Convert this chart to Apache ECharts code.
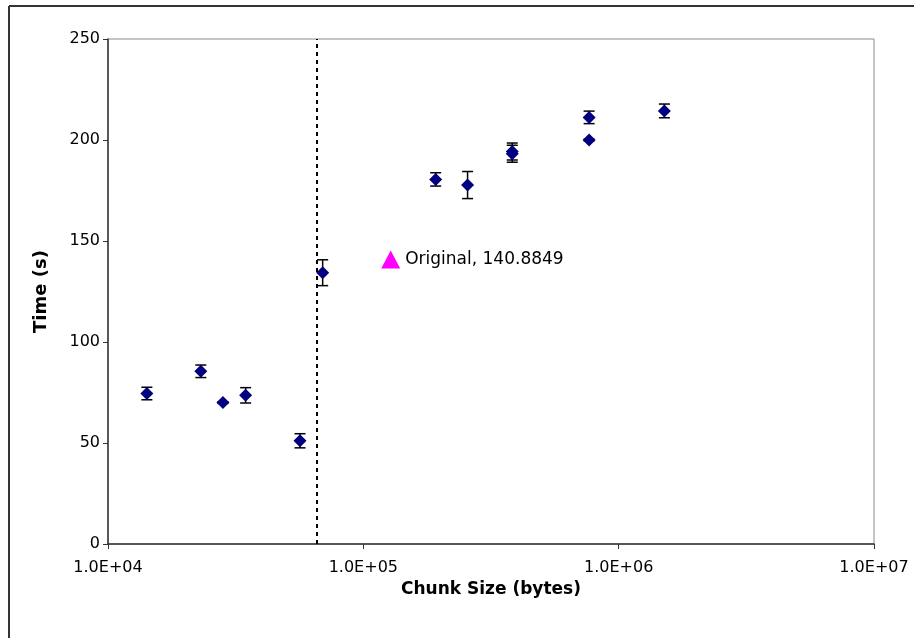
<!DOCTYPE html>
<html>
<head>
<meta charset="utf-8">
<script src="https://cdn.jsdelivr.net/npm/echarts@6/dist/echarts.min.js"></script>
<style>
html,body{margin:0;padding:0;background:#fff;}
#chart{width:914px;height:638px;}
</style>
</head>
<body>
<div id="chart"></div>
<script>
// Data
var chunkSizes = [14200, 23100, 28200, 34600, 56500, 69300, 192000, 256000, 383000, 383000, 766000, 766000, 1510000];
var times      = [74.5, 85.5, 70.0, 73.6, 51.1, 134.3, 180.5, 177.7, 194.3, 193.2, 211.2, 200.0, 214.4];
var errors     = [3.1, 3.1, 0.4, 3.8, 3.5, 6.4, 3.3, 6.7, 4.2, 4.2, 3.1, 0.4, 3.4];
var originalSize = [128000];
var originalTime = [140.8849];
var originalName = 'Original';
var thresholdSize = [65536];
var xTickValues = [1e4, 1e5, 1e6, 1e7];
var yTickValues = [0, 50, 100, 150, 200, 250];
var xAxisTitle = 'Chunk Size (bytes)';
var yAxisTitle = 'Time (s)';

var FONT = 'DejaVu Sans';

function fmtExp(v) {
  var e = Math.round(Math.log10(v));
  var m = v / Math.pow(10, e);
  var es = (e < 0 ? '-' : '+') + (Math.abs(e) < 10 ? '0' : '') + Math.abs(e);
  return m.toFixed(1) + 'E' + es;
}

var pointData = chunkSizes.map(function (c, i) { return [c, times[i]]; });
var errData = chunkSizes.map(function (c, i) { return [c, times[i] - errors[i], times[i] + errors[i]]; });
var origData = originalSize.map(function (c, i) { return [c, originalTime[i]]; });

var chart = echarts.init(document.getElementById('chart'), null, {renderer: 'canvas'});
chart.setOption({
  animation: false,
  backgroundColor: '#ffffff',
  grid: {left: 108, right: 40, top: 39, bottom: 94, show: true, borderColor: '#8c8c8c', borderWidth: 1, backgroundColor: 'transparent'},
  xAxis: {
    type: 'log', logBase: 10, min: xTickValues[0], max: xTickValues[xTickValues.length - 1],
    name: xAxisTitle, nameLocation: 'middle', nameGap: 22,
    nameTextStyle: {fontFamily: FONT, fontWeight: 'bold', fontSize: 17, color: '#000'},
    axisLine: {show: true, onZero: false, lineStyle: {color: '#333', width: 1.5}},
    axisTick: {show: true, inside: false, length: 5, lineStyle: {color: '#333'}},
    minorTick: {show: false},
    splitLine: {show: false},
    axisLabel: {margin: 16, fontFamily: FONT, fontSize: 16, color: '#000', formatter: function (v) { return fmtExp(v); }}
  },
  yAxis: {
    type: 'value', min: 0, max: 250, interval: 50,
    name: yAxisTitle, nameLocation: 'middle', nameGap: 58, nameRotate: 90,
    nameTextStyle: {fontFamily: FONT, fontWeight: 'bold', fontSize: 18, color: '#000'},
    axisLine: {show: true, lineStyle: {color: '#333', width: 1.5}},
    axisTick: {show: true, inside: false, length: 5, lineStyle: {color: '#333'}},
    splitLine: {show: false},
    axisLabel: {margin: 8, fontFamily: FONT, fontSize: 16, color: '#000'}
  },
  graphic: [
    {type: 'line', shape: {x1: 9, y1: 6, x2: 914, y2: 6}, style: {stroke: '#333', lineWidth: 2}, silent: true},
    {type: 'line', shape: {x1: 9, y1: 6, x2: 9, y2: 638}, style: {stroke: '#333', lineWidth: 2}, silent: true}
  ],
  series: [
    {
      type: 'line', data: [], silent: true,
      markLine: {
        symbol: 'none', silent: true, label: {show: false},
        lineStyle: {color: '#000', type: [4, 4], width: 2},
        data: thresholdSize.map(function (v) { return {xAxis: v}; })
      }
    },
    {
      type: 'custom', z: 3, silent: true,
      data: errData,
      renderItem: function (params, api) {
        var x = api.value(0);
        var top = api.coord([x, api.value(2)]);
        var bot = api.coord([x, api.value(1)]);
        var hw = 5.5;
        var st = {stroke: '#000', lineWidth: 1.5};
        return {type: 'group', children: [
          {type: 'line', shape: {x1: top[0], y1: top[1], x2: bot[0], y2: bot[1]}, style: st},
          {type: 'line', shape: {x1: top[0] - hw, y1: top[1], x2: top[0] + hw, y2: top[1]}, style: st},
          {type: 'line', shape: {x1: bot[0] - hw, y1: bot[1], x2: bot[0] + hw, y2: bot[1]}, style: st}
        ]};
      }
    },
    {
      type: 'scatter', z: 4, symbol: 'diamond', symbolSize: [13, 13],
      itemStyle: {color: '#000080', opacity: 1},
      data: pointData
    },
    {
      type: 'scatter', z: 4, symbol: 'triangle', symbolSize: [19, 18],
      itemStyle: {color: '#ff00ff', opacity: 1},
      label: {show: true, position: 'right', distance: 5, fontFamily: FONT, fontSize: 17, color: '#000',
        formatter: function (p) { return originalName + ', ' + p.value[1]; }},
      data: origData
    }
  ]
});
</script>
</body>
</html>
